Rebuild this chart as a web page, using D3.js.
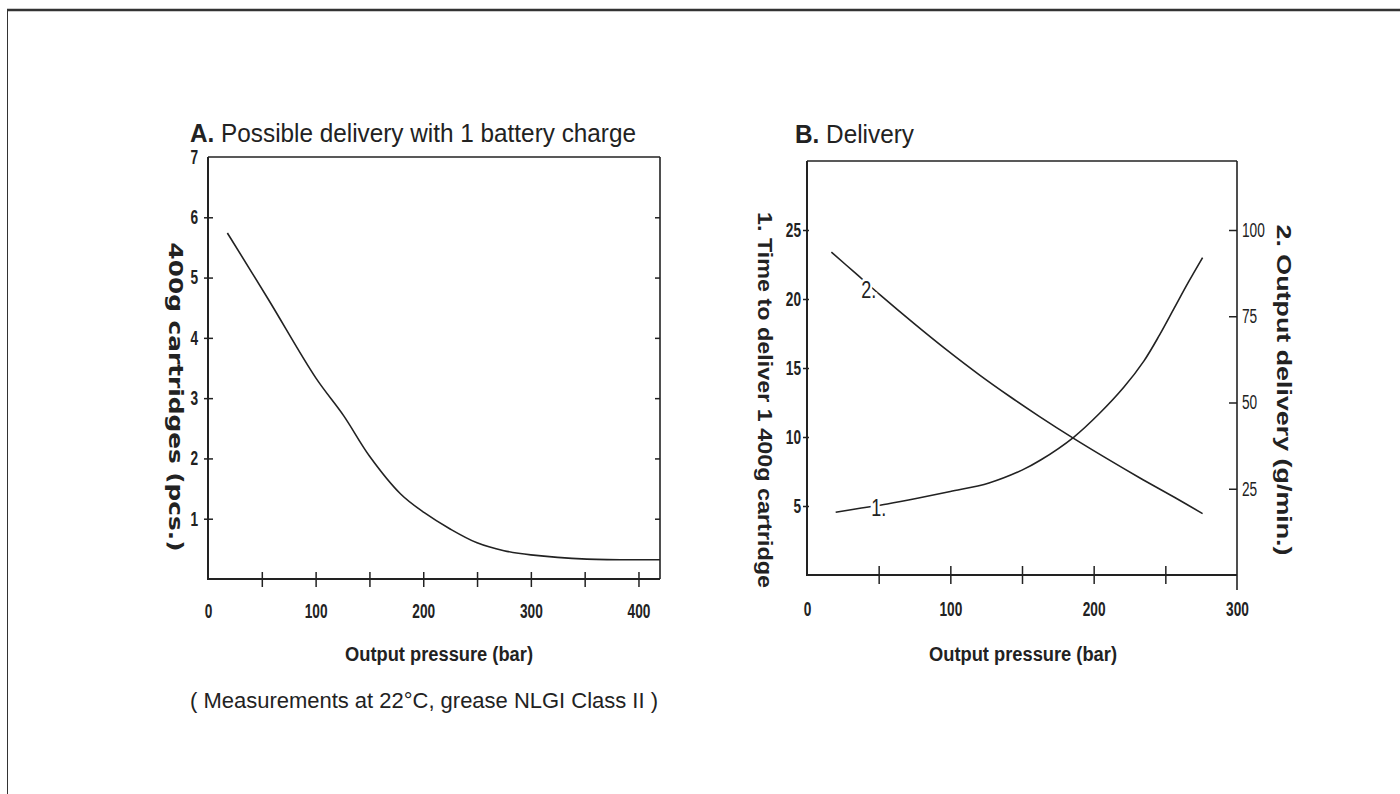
<!DOCTYPE html>
<html>
<head>
<meta charset="utf-8">
<script src="https://cdn.jsdelivr.net/npm/d3@7"></script>
<style>
  body { margin: 0; background: #fff; }
</style>
</head>
<body>
<div id="chart"></div>
<script>
// A. cartridges per battery charge vs output pressure
var aPressure   = [18, 56, 100, 126, 150, 179, 201, 225, 250, 275, 300, 352, 420];
var aCartridges = [5.74, 4.64, 3.34, 2.71, 2.04, 1.41, 1.10, 0.83, 0.60, 0.47, 0.40, 0.33, 0.32];
var aXTicks  = [50, 100, 150, 200, 250, 300, 350, 400];
var aXLabels = [0, 100, 200, 300, 400];
var aYTicks  = [1, 2, 3, 4, 5, 6];
var aYLabels = [1, 2, 3, 4, 5, 6, 7];

// B. curve 1 = time for one cartridge (left axis), curve 2 = output delivery (right axis)
var bPressure1 = [20, 38, 56, 77, 100, 127, 150, 163, 186, 204, 221, 235, 246, 256, 266, 276];
var bTime      = [4.55, 4.85, 5.15, 5.56, 6.05, 6.67, 7.6, 8.33, 9.98, 11.7, 13.6, 15.5, 17.4, 19.3, 21.2, 23.0];
var bPressure2 = [17, 34, 51, 75, 97, 120, 142, 162, 186, 209, 232, 256, 276];
var bDelivery  = [93.6, 87.4, 81.2, 72.8, 65.4, 58.1, 51.6, 46.0, 39.6, 33.8, 28.2, 22.6, 17.8];
var bXTicks  = [50, 100, 150, 200, 250];
var bXLabels = [0, 100, 200, 300];
var bLeftTicks  = [5, 10, 15, 20, 25];
var bRightTicks = [25, 50, 75, 100];

var W = 1400, H = 794;
var INK = '#222';
var SANS = '"Liberation Sans", Arial, sans-serif';
var WIDE = '"DejaVu Sans", Verdana, sans-serif';

var svg = d3.select('#chart')
    .append('svg')
    .attr('width', W)
    .attr('height', H);

// page frame (top and left edges only)
svg.append('line').attr('x1', 7).attr('x2', W).attr('y1', 10).attr('y2', 10)
    .attr('stroke', '#333').attr('stroke-width', 2.5);
svg.append('line').attr('x1', 7.5).attr('x2', 7.5).attr('y1', 9).attr('y2', H)
    .attr('stroke', '#333').attr('stroke-width', 1);

// condensed look: squeeze each tick label to ~7.6px per character
function styleAxis(g, size, weight) {
    g.select('.domain').remove();
    g.attr('font-family', SANS).attr('font-size', size).attr('font-weight', weight);
    g.selectAll('.tick line').attr('stroke', INK).attr('stroke-width', 1.5);
    g.selectAll('.tick text')
        .attr('fill', INK)
        .attr('textLength', function (d) { return String(d).length * 7.6; })
        .attr('lengthAdjust', 'spacingAndGlyphs');
}

function frame(x0, x1, y0, y1) {
    var g = svg.append('g').attr('stroke', INK).attr('fill', 'none');
    g.append('line').attr('x1', x0).attr('x2', x1).attr('y1', y0).attr('y2', y0).attr('stroke-width', 1.4);
    g.append('line').attr('x1', x1).attr('x2', x1).attr('y1', y0).attr('y2', y1).attr('stroke-width', 1.6);
    g.append('line').attr('x1', x0).attr('x2', x0).attr('y1', y0).attr('y2', y1).attr('stroke-width', 2);
    g.append('line').attr('x1', x0 - 1).attr('x2', x1).attr('y1', y1).attr('y2', y1).attr('stroke-width', 2);
}

function rotatedLabel(txt, x, y, len, family, size) {
    svg.append('text')
        .attr('transform', 'translate(' + x + ',' + y + ') rotate(90)')
        .attr('text-anchor', 'middle')
        .attr('font-family', family)
        .attr('font-size', size)
        .attr('font-weight', 'bold')
        .attr('fill', INK)
        .attr('textLength', len)
        .attr('lengthAdjust', 'spacingAndGlyphs')
        .text(txt);
}

function title(bold, rest, x, y, len) {
    var t = svg.append('text')
        .attr('x', x).attr('y', y)
        .attr('font-family', SANS)
        .attr('font-size', 25)
        .attr('fill', INK)
        .attr('textLength', len)
        .attr('lengthAdjust', 'spacingAndGlyphs');
    t.append('tspan').attr('font-weight', 'bold').text(bold);
    t.append('tspan').text(rest);
}

function centered(txt, x, y, size, weight, len) {
    svg.append('text')
        .attr('x', x).attr('y', y)
        .attr('text-anchor', 'middle')
        .attr('font-family', SANS)
        .attr('font-size', size)
        .attr('font-weight', weight)
        .attr('fill', INK)
        .attr('textLength', len)
        .attr('lengthAdjust', 'spacingAndGlyphs')
        .text(txt);
}

// ---------------- chart A ----------------
var ax = d3.scaleLinear().domain([0, 420]).range([208, 660]);
var ay = d3.scaleLinear().domain([0, 7]).range([579, 157]);

frame(208, 660, 157, 579);

var gAxT = svg.append('g').attr('transform', 'translate(0,579)')
    .call(d3.axisBottom(ax).tickValues(aXTicks).tickSize(8).tickFormat(''));
styleAxis(gAxT, 20, 'bold');
gAxT.selectAll('.tick line').attr('y1', -7);

var gAxL = svg.append('g').attr('transform', 'translate(0,579)')
    .call(d3.axisBottom(ax).tickValues(aXLabels).tickSize(0).tickPadding(25).tickFormat(d3.format('d')));
styleAxis(gAxL, 20, 'bold');

var gAyT = svg.append('g').attr('transform', 'translate(208,0)')
    .call(d3.axisLeft(ay).tickValues(aYTicks).tickSize(4).tickFormat(''));
styleAxis(gAyT, 20, 'bold');
gAyT.selectAll('.tick line').attr('x1', 5);

var gAyL = svg.append('g').attr('transform', 'translate(208,0)')
    .call(d3.axisLeft(ay).tickValues(aYLabels).tickSize(0).tickPadding(10).tickFormat(d3.format('d')));
styleAxis(gAyL, 20, 'bold');

var gAyR = svg.append('g').attr('transform', 'translate(660,0)')
    .call(d3.axisRight(ay).tickValues(aYTicks).tickSize(-5).tickFormat(''));
styleAxis(gAyR, 20, 'bold');

var lineA = d3.line()
    .x(function (d, i) { return ax(aPressure[i]); })
    .y(function (d) { return ay(d); })
    .curve(d3.curveCatmullRom.alpha(0.5));

svg.append('path')
    .attr('d', lineA(aCartridges))
    .attr('fill', 'none')
    .attr('stroke', INK)
    .attr('stroke-width', 1.6);

title('A.', ' Possible delivery with 1 battery charge', 190, 142, 446);
rotatedLabel('400g cartridges (pcs.)', 169, 397, 309, WIDE, 19);
centered('Output pressure (bar)', 439, 661, 20, 'bold', 188);
centered('( Measurements at 22°C, grease NLGI Class II )', 424, 708, 22, 'normal', 468);

// ---------------- chart B ----------------
var bx = d3.scaleLinear().domain([0, 300]).range([807, 1237]);
var by1 = d3.scaleLinear().domain([0, 30]).range([575, 161]);
var by2 = d3.scaleLinear().domain([0, 120]).range([575, 161]);

frame(807, 1237, 161, 575);
// right axis runs past the bottom axis at 300
svg.append('line').attr('x1', 1237).attr('x2', 1237).attr('y1', 575).attr('y2', 590)
    .attr('stroke', INK).attr('stroke-width', 1.6);

var gBxT = svg.append('g').attr('transform', 'translate(0,575)')
    .call(d3.axisBottom(bx).tickValues(bXTicks).tickSize(9).tickFormat(''));
styleAxis(gBxT, 20, 'normal');
gBxT.selectAll('.tick line').attr('y1', -9);

var gBxL = svg.append('g').attr('transform', 'translate(0,575)')
    .call(d3.axisBottom(bx).tickValues(bXLabels).tickSize(0).tickPadding(27).tickFormat(d3.format('d')));
styleAxis(gBxL, 20, 'bold');

var gB1 = svg.append('g').attr('transform', 'translate(807,0)')
    .call(d3.axisLeft(by1).tickValues(bLeftTicks).tickSize(4).tickPadding(2).tickFormat(d3.format('d')));
styleAxis(gB1, 20, 'bold');
gB1.selectAll('.tick line').attr('x1', 2);

var gB2 = svg.append('g').attr('transform', 'translate(1237,0)')
    .call(d3.axisRight(by2).tickValues(bRightTicks).tickSize(-8).tickPadding(5).tickFormat(d3.format('d')));
styleAxis(gB2, 20, 'normal');

var line1 = d3.line()
    .x(function (d, i) { return bx(bPressure1[i]); })
    .y(function (d) { return by1(d); })
    .curve(d3.curveCatmullRom.alpha(0.5));
var line2 = d3.line()
    .x(function (d, i) { return bx(bPressure2[i]); })
    .y(function (d) { return by2(d); })
    .curve(d3.curveCatmullRom.alpha(0.5));

svg.append('path').attr('d', line1(bTime))
    .attr('fill', 'none').attr('stroke', INK).attr('stroke-width', 1.6);
svg.append('path').attr('d', line2(bDelivery))
    .attr('fill', 'none').attr('stroke', INK).attr('stroke-width', 1.6);

// in-line curve labels, white halo cuts the line like the original
function curveLabel(txt, x, y) {
    svg.append('text')
        .attr('x', x).attr('y', y)
        .attr('text-anchor', 'middle')
        .attr('font-family', SANS)
        .attr('font-size', 24)
        .attr('fill', INK)
        .attr('stroke', '#fff')
        .attr('stroke-width', 6)
        .attr('paint-order', 'stroke')
        .attr('textLength', 15)
        .attr('lengthAdjust', 'spacingAndGlyphs')
        .text(txt);
}
curveLabel('1.', bx(50), by1(4.95) + 9);
curveLabel('2.', bx(43), by2(83) + 9);

title('B.', ' Delivery', 795, 143, 119);
rotatedLabel('1. Time to deliver 1 400g cartridge', 758, 400, 376, SANS, 20);
rotatedLabel('2. Output delivery (g/min.)', 1277, 390, 331, SANS, 20);
centered('Output pressure (bar)', 1023, 661, 20, 'bold', 188);
</script>
</body>
</html>
